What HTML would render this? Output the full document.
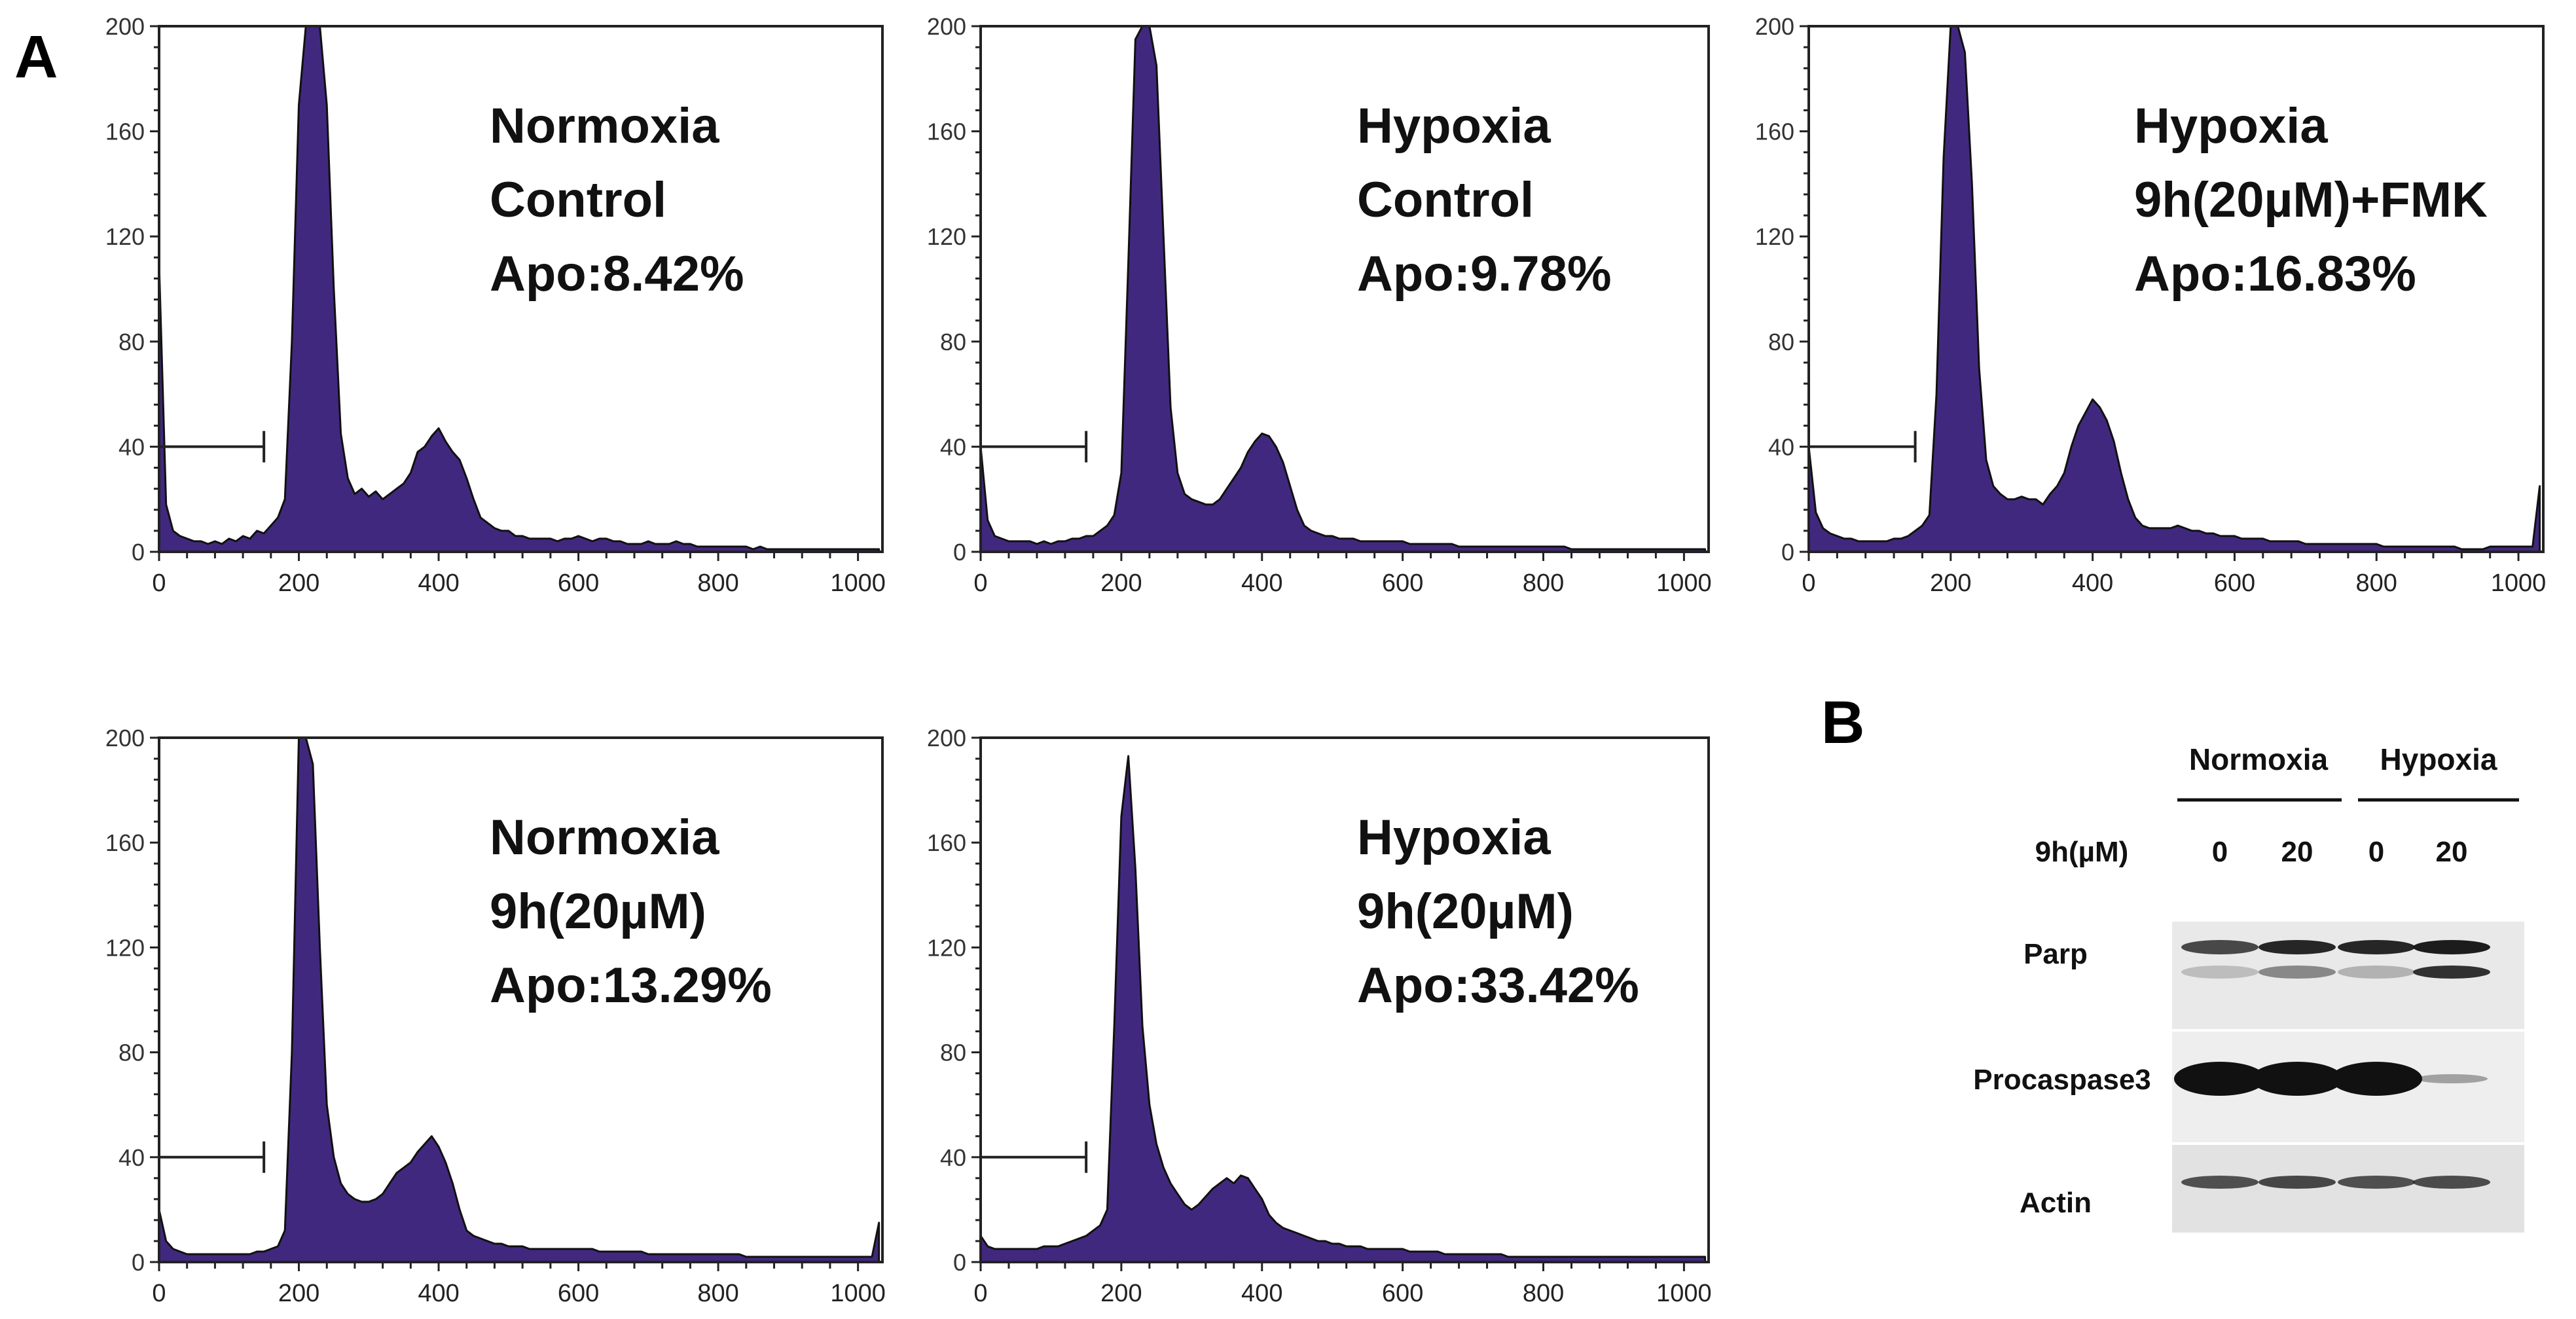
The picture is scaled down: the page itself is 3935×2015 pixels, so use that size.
<!DOCTYPE html>
<html><head><meta charset="utf-8">
<style>
html,body{margin:0;padding:0;background:#fff;}
svg{display:block;font-family:"Liberation Sans",Arial,sans-serif;}
</style></head>
<body>
<svg id="fig" width="3935" height="2015" viewBox="0 0 3935 2015" xmlns="http://www.w3.org/2000/svg">
<rect width="3935" height="2015" fill="#fff"/>
<text x="22" y="118" font-size="92" font-weight="bold">A</text>
<text x="2782" y="1135" font-size="92" font-weight="bold">B</text>
<g id="charts"></g>
<g id="blot"></g>
</svg>
<script>
// shared x bins (DNA content channel), step 10
const xBins = [];
for (let v = 0; v <= 1030; v += 10) xBins.push(v);
const xTicks = [0,200,400,600,800,1000];
const yTicks = [0,40,80,120,160,200];
const gateEnd = 150, gateLevel = 40;

const countsNormCtrl = [110,18,8,6,5,4,4,3,4,3,5,4,6,5,8,7,10,13,20,80,170,200,200,200,170,100,45,28,22,24,21,23,20,22,24,26,30,38,40,44,47,42,38,35,28,20,13,11,9,8,8,6,6,5,5,5,5,4,5,5,6,5,4,5,5,4,4,3,3,3,4,3,3,3,4,3,3,2,2,2,2,2,2,2,2,1,2,1,1,1,1,1,1,1,1,1,1,1,1,1,1,1,1,1];
const countsHypCtrl = [40,12,6,5,4,4,4,4,3,4,3,4,4,5,5,6,6,8,10,14,30,110,195,200,200,185,120,55,30,22,20,19,18,18,20,24,28,32,38,42,45,44,40,34,25,16,10,8,7,6,6,5,5,5,4,4,4,4,4,4,4,3,3,3,3,3,3,3,2,2,2,2,2,2,2,2,2,2,2,2,2,2,2,2,1,1,1,1,1,1,1,1,1,1,1,1,1,1,1,1,1,1,1,1];
const countsHypFmk = [40,15,9,7,6,5,5,4,4,4,4,4,5,5,6,8,10,14,60,150,200,200,190,140,70,35,25,22,20,20,21,20,20,18,22,25,30,40,48,53,58,55,50,42,30,20,13,10,9,9,9,9,10,9,8,8,7,7,6,6,6,5,5,5,5,4,4,4,4,4,3,3,3,3,3,3,3,3,3,3,3,2,2,2,2,2,2,2,2,2,2,2,1,1,1,1,2,2,2,2,2,2,2,25];
const countsNorm9h = [20,8,5,4,3,3,3,3,3,3,3,3,3,3,4,4,5,6,12,80,200,200,190,120,60,40,30,26,24,23,23,24,26,30,34,36,38,42,45,48,44,38,30,20,12,10,9,8,7,7,6,6,6,5,5,5,5,5,5,5,5,5,5,4,4,4,4,4,4,4,3,3,3,3,3,3,3,3,3,3,3,3,3,3,2,2,2,2,2,2,2,2,2,2,2,2,2,2,2,2,2,2,2,15];
const countsHyp9h = [10,6,5,5,5,5,5,5,5,6,6,6,7,8,9,10,12,14,20,90,170,193,150,90,60,45,36,30,26,22,20,22,25,28,30,32,30,33,32,28,24,18,15,13,12,11,10,9,8,8,7,7,6,6,6,5,5,5,5,5,5,4,4,4,4,4,3,3,3,3,3,3,3,3,3,2,2,2,2,2,2,2,2,2,2,2,2,2,2,2,2,2,2,2,2,2,2,2,2,2,2,2,2,2];

const panels = [
 {name:'normoxia-control', data:countsNormCtrl, x0:243, x1:1348, y0:40, y1:843, lines:['Normoxia','Control','Apo:8.42%'], tx:748},
 {name:'hypoxia-control', data:countsHypCtrl, x0:1498, x1:2610, y0:40, y1:843, lines:['Hypoxia','Control','Apo:9.78%'], tx:2073},
 {name:'hypoxia-9h-fmk', data:countsHypFmk, x0:2763, x1:3885, y0:40, y1:843, lines:['Hypoxia','9h(20µM)+FMK','Apo:16.83%'], tx:3260},
 {name:'normoxia-9h', data:countsNorm9h, x0:243, x1:1348, y0:1127, y1:1928, lines:['Normoxia','9h(20µM)','Apo:13.29%'], tx:748},
 {name:'hypoxia-9h', data:countsHyp9h, x0:1498, x1:2610, y0:1127, y1:1928, lines:['Hypoxia','9h(20µM)','Apo:33.42%'], tx:2073}
];
const NS='http://www.w3.org/2000/svg';
function mk(tag, attrs, parent){const e=document.createElementNS(NS,tag);for(const k in attrs)e.setAttribute(k,attrs[k]);parent.appendChild(e);return e;}
const root=document.getElementById('charts');
const XMAX=1035, YMAX=200;
panels.forEach(p=>{
  const g=mk('g',{},root);
  
  
  const sx=v=>p.x0+(v/XMAX)*(p.x1-p.x0);
  const sy=v=>p.y1-(Math.min(v,YMAX)/YMAX)*(p.y1-p.y0);
  let d='M'+sx(0)+','+sy(0);
  p.data.forEach((v,i)=>{d+=' L'+sx(xBins[i]).toFixed(1)+','+sy(v).toFixed(1);});
  const last=xBins[p.data.length-1];
  const fill=mk('path',{d:d+' L'+sx(last)+','+sy(0)+' Z',fill:'#41287f',stroke:'#111','stroke-width':3,'stroke-linejoin':'round'},g);
  
  
  const fr=mk('rect',{x:p.x0,y:p.y0,width:p.x1-p.x0,height:p.y1-p.y0,fill:'none',stroke:'#222','stroke-width':4},g);
  
  
  for(let v=0;v<=200;v+=8){mk('line',{x1:p.x0-(v%40===0?14:8),x2:p.x0,y1:sy(v),y2:sy(v),stroke:'#222','stroke-width':3},g);}
  yTicks.forEach(v=>{const t=mk('text',{x:p.x0-22,y:sy(v)+13,'font-size':36,'text-anchor':'end',fill:'#333'},g);t.textContent=v;
    
    });
  for(let v=0;v<=1000;v+=40){mk('line',{x1:sx(v),x2:sx(v),y1:p.y1,y2:p.y1+(v%200===0?14:10),stroke:'#222','stroke-width':3},g);}
  xTicks.forEach(v=>{const t=mk('text',{x:sx(v),y:p.y1+60,'font-size':38,'text-anchor':'middle',fill:'#222'},g);t.textContent=v;
    
    });
  const gl=mk('path',{d:'M'+sx(0)+','+sy(gateLevel)+' H'+sx(gateEnd)+' M'+sx(gateEnd)+','+(sy(gateLevel)-24)+' V'+(sy(gateLevel)+24),stroke:'#222','stroke-width':4,fill:'none'},g);
  
  
  p.lines.forEach((s,i)=>{const t=mk('text',{x:p.tx,y:p.y0+178+i*113,'font-size':76,'font-weight':'bold',fill:'#111'},g);t.textContent=s;
    
    });
});

const blot=document.getElementById('blot');
const lanes=[3391,3509,3630,3745];
const parpUpper=[0.75,0.9,0.9,0.95];
const parpLower=[0.2,0.45,0.25,0.85];
const caspase=[1,1,1,0.35];
const actin=[0.7,0.75,0.7,0.72];
function T(x,y,s,size,name,anchor){const t=mk('text',{x:x,y:y,'font-size':size,'font-weight':'bold','text-anchor':anchor||'middle',fill:'#111'},blot);t.textContent=s;
  
  return t;}
T(3450,1176,'Normoxia',46,'group-label-normoxia');
T(3725,1176,'Hypoxia',46,'group-label-hypoxia');
mk('line',{x1:3326,x2:3577,y1:1222,y2:1222,stroke:'#111','stroke-width':5},blot);
mk('line',{x1:3602,x2:3848,y1:1222,y2:1222,stroke:'#111','stroke-width':5},blot);
T(3180,1316,'9h(µM)',44,'dose-label');
['0','20','0','20'].forEach((s,i)=>T(lanes[i],1316,s,44,'dose-value'));
const rows=[{n:'Parp',y0:1408,y1:1572,ly:1472,bg:'#e9e9e9'},{n:'Procaspase3',y0:1576,y1:1745,ly:1664,bg:'#eeeeee'},{n:'Actin',y0:1749,y1:1883,ly:1852,bg:'#e2e2e2'}];
rows.forEach(r=>{const b=mk('rect',{x:3318,y:r.y0,width:538,height:r.y1-r.y0,fill:r.bg},blot);
  
  
  T(r.n==='Procaspase3'?3150:3140,r.ly,r.n,44,'protein-label');});
function band(cx,cy,w,h,op,name){const e=mk('ellipse',{cx:cx,cy:cy,rx:w/2,ry:h/2,fill:'#111','fill-opacity':op},blot);
  
  }
lanes.forEach((c,i)=>{
  band(c,1447,118,22,parpUpper[i],'parp-band');
  band(c,1485,118,20,parpLower[i],'parp-cleaved-band');
  band(c,1648,caspase[i]<0.5?110:140,caspase[i]<0.5?14:52,caspase[i],'procaspase3-band');
  band(c,1806,118,20,actin[i],'actin-band');
});
</script>
</body></html>
